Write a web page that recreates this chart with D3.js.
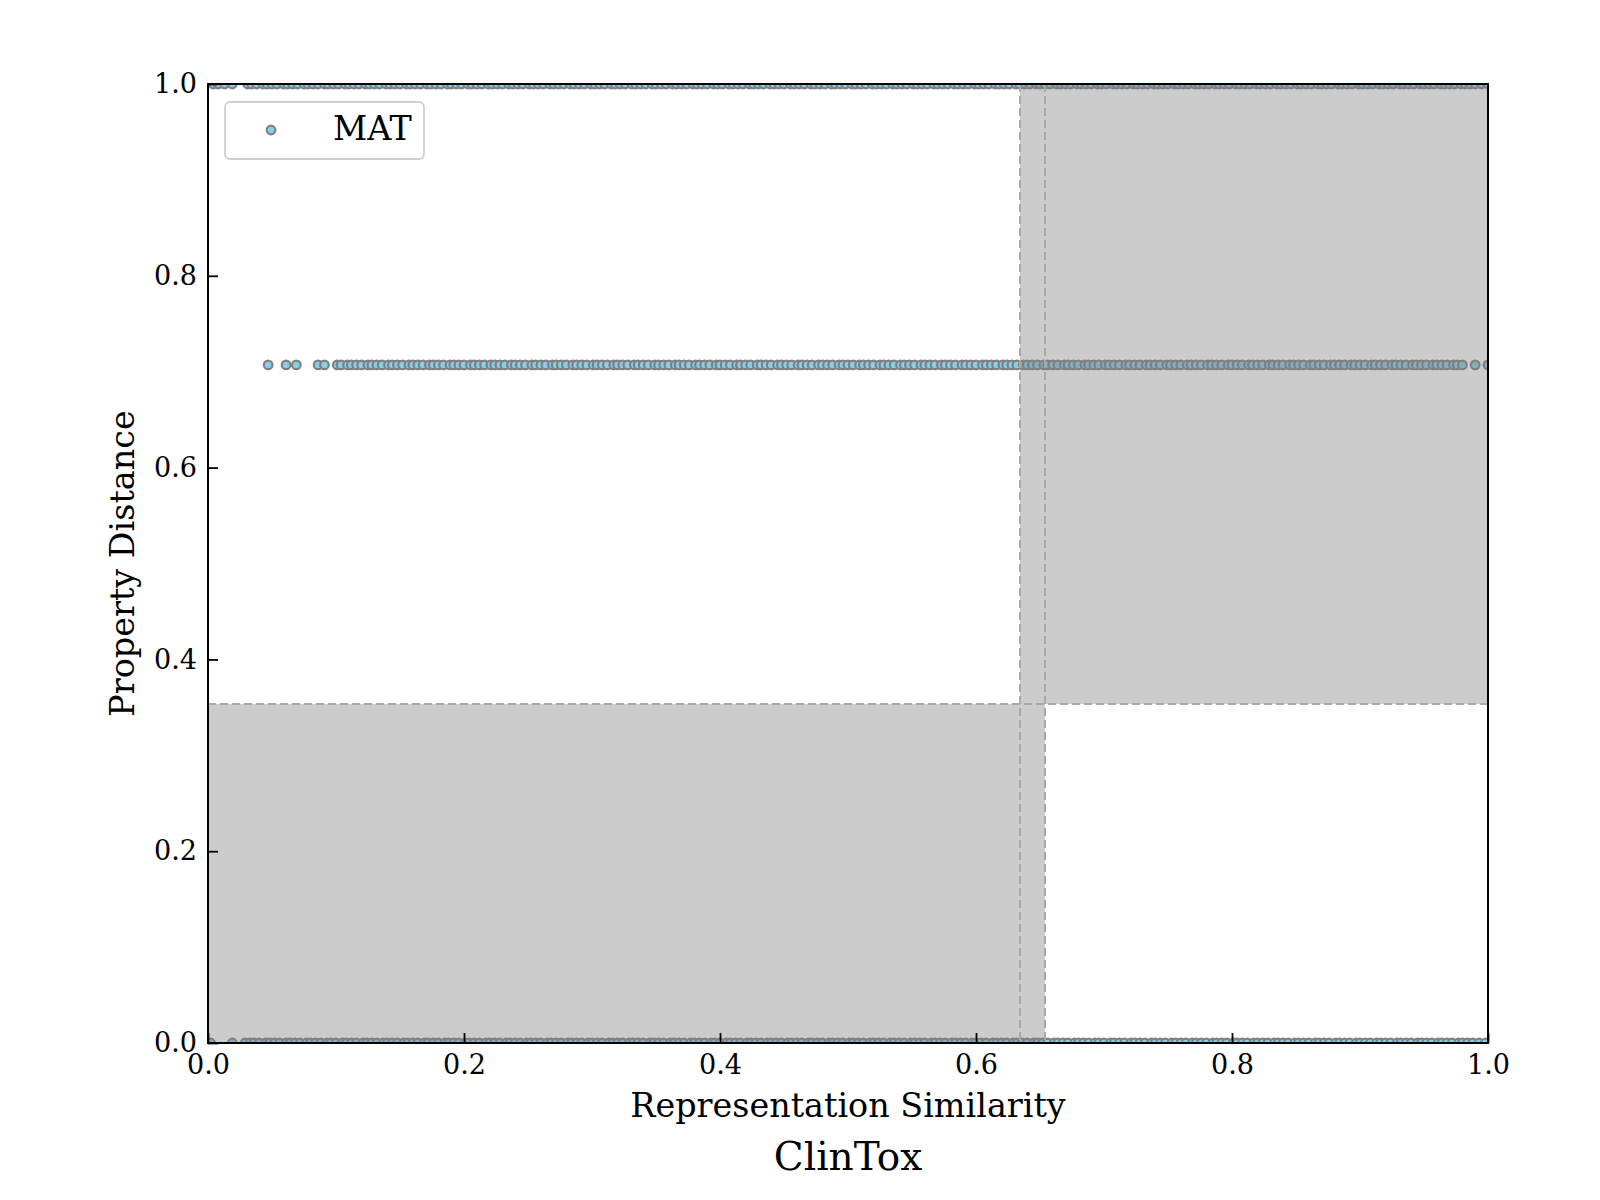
<!DOCTYPE html>
<html>
<head>
<meta charset="utf-8">
<script src="https://cdn.jsdelivr.net/npm/d3@7"></script>
<style>
  body { margin: 0; background: #fff; }
  text { font-family: "DejaVu Serif", serif; }
</style>
</head>
<body>
<svg id="chart" width="1600" height="1200"></svg>
<script>
// ---- data ----
const seriesName = "MAT";
const chartTitle = "ClinTox";
const xLabel = "Representation Similarity";
const yLabel = "Property Distance";
const xTicks = [0.0, 0.2, 0.4, 0.6, 0.8, 1.0];
const yTicks = [0.0, 0.2, 0.4, 0.6, 0.8, 1.0];

// property-distance levels at which points sit
const rowLevels = [1.0, 0.7071, 0.0];

// representation similarity of points at distance 1.0
const xTop = [0.004,0.008,0.013,0.019,
0.031,0.034,0.038,0.043,0.046,0.050,0.054,0.059,0.062,0.066,0.070,0.075,0.078,0.082,0.086,0.091,0.094,0.098,
0.102,0.107,0.110,0.114,0.118,0.123,0.126,0.130,0.134,0.139,0.142,0.146,0.150,0.155,0.158,0.162,0.166,0.171,0.174,0.178,0.182,0.187,0.190,0.194,0.198,
0.203,0.206,0.210,0.214,0.219,0.222,0.226,0.230,0.235,0.238,0.242,0.246,0.251,0.254,0.258,0.262,0.267,0.270,0.274,0.278,0.283,0.286,0.290,0.294,0.299,
0.302,0.306,0.310,0.315,0.318,0.322,0.326,0.331,0.334,0.338,0.342,0.347,0.350,0.354,0.358,0.363,0.366,0.370,0.374,0.379,0.382,0.386,0.390,0.395,0.398,
0.402,0.407,0.410,0.414,0.418,0.423,0.426,0.430,0.434,0.439,0.442,0.446,0.450,0.455,0.458,0.462,0.466,0.471,0.474,0.478,0.482,0.487,0.490,0.494,0.498,
0.503,0.506,0.510,0.514,0.519,0.522,0.526,0.530,0.535,0.538,0.542,0.546,0.551,0.554,0.558,0.562,0.567,0.570,0.574,0.578,0.583,0.586,0.590,0.594,0.599,
0.602,0.606,0.610,0.615,0.618,0.622,0.626,0.631,0.634,0.638,0.642,0.647,0.650,0.654,0.658,0.663,0.666,0.670,0.674,0.679,0.682,0.686,0.690,0.695,0.698,
0.702,0.707,0.710,0.714,0.718,0.723,0.726,0.730,0.734,0.739,0.742,0.746,0.750,0.755,0.758,0.762,0.766,0.771,0.774,0.778,0.782,0.787,0.790,0.794,0.798,
0.803,0.806,0.810,0.814,0.819,0.822,0.826,0.830,0.835,0.838,0.842,0.846,0.851,0.854,0.858,0.862,0.867,0.870,0.874,0.878,0.883,0.886,0.890,0.894,0.899,
0.902,0.906,0.910,0.915,0.918,0.922,0.926,0.931,0.934,0.938,0.942,0.947,0.950,0.954,0.958,0.963,0.966,0.970,0.974,0.979,0.982,0.986,0.990,0.995,1.000];

// representation similarity of points at distance 0.7071
const xMid = [0.047,0.061,0.069,0.086,0.091,
0.101,0.104,0.109,0.112,0.116,0.120,0.125,0.128,0.132,0.136,0.141,0.144,0.148,0.152,0.157,0.160,0.164,0.168,0.173,0.176,0.180,0.184,0.189,0.192,0.196,0.200,
0.205,0.208,0.212,0.216,0.221,0.224,0.228,0.232,0.237,0.240,0.244,0.248,0.253,0.256,0.260,0.264,0.269,0.272,0.276,0.280,0.285,0.288,0.292,0.296,
0.301,0.304,0.308,0.312,0.317,0.320,0.324,0.328,0.333,0.336,0.340,0.344,0.349,0.352,0.356,0.360,0.365,0.368,0.372,0.376,0.381,0.384,0.388,0.392,0.397,
0.400,0.404,0.408,0.413,0.416,0.420,0.424,0.429,0.432,0.436,0.440,0.445,0.448,0.452,0.456,0.461,0.464,0.468,0.472,0.477,0.480,0.484,0.488,0.493,0.496,
0.500,0.504,0.509,0.512,0.516,0.520,0.525,0.528,0.532,0.536,0.541,0.544,0.548,0.552,0.557,0.560,0.564,0.568,0.573,0.576,0.580,0.584,0.589,0.592,0.596,
0.600,0.605,0.608,0.612,0.616,0.621,0.624,0.628,0.632,0.637,0.640,0.644,0.648,0.653,0.656,0.660,0.664,0.669,0.672,0.676,0.680,0.685,0.688,0.692,0.696,
0.701,0.704,0.708,0.712,0.717,0.720,0.724,0.728,0.733,0.736,0.740,0.744,0.749,0.752,0.756,0.760,0.765,0.768,0.772,0.776,0.781,0.784,0.788,0.792,0.797,
0.800,0.804,0.808,0.813,0.816,0.820,0.824,0.829,0.832,0.836,0.840,0.845,0.848,0.852,0.856,0.861,0.864,0.868,0.872,0.877,0.880,0.884,0.888,0.893,0.896,
0.900,0.904,0.909,0.912,0.916,0.920,0.925,0.928,0.932,0.936,0.941,0.944,0.948,0.952,0.957,0.960,0.964,0.968,0.973,0.976,0.980,0.990,1.000];

// representation similarity of points at distance 0.0
const xBot = [0.002,0.019,
0.029,0.033,0.036,0.040,0.045,0.048,0.052,0.056,0.061,0.064,0.068,0.072,0.077,0.080,0.084,0.088,0.093,0.096,
0.100,0.105,0.108,0.112,0.116,0.121,0.124,0.128,0.132,0.137,0.140,0.144,0.148,0.153,0.156,0.160,0.164,0.169,0.172,0.176,0.180,0.185,0.188,0.192,0.196,
0.201,0.204,0.208,0.212,0.217,0.220,0.224,0.228,0.233,0.236,0.240,0.244,0.249,0.252,0.256,0.260,0.265,0.268,0.272,0.276,0.281,0.284,0.288,0.292,0.297,
0.300,0.304,0.308,0.313,0.316,0.320,0.324,0.329,0.332,0.336,0.340,0.345,0.348,0.352,0.356,0.361,0.364,0.368,0.372,0.377,0.380,0.384,0.388,0.393,0.396,
0.400,0.405,0.408,0.412,0.416,0.421,0.424,0.428,0.432,0.437,0.440,0.444,0.448,0.453,0.456,0.460,0.464,0.469,0.472,0.476,0.480,0.485,0.488,0.492,0.496,
0.501,0.504,0.508,0.512,0.517,0.520,0.524,0.528,0.533,0.536,0.540,0.544,0.549,0.552,0.556,0.560,0.565,0.568,0.572,0.576,0.581,0.584,0.588,0.592,0.597,
0.600,0.604,0.608,0.613,0.616,0.620,0.624,0.629,0.632,0.636,0.640,0.645,0.648,0.652,0.656,0.661,0.664,0.668,0.672,0.677,0.680,0.684,0.688,0.693,0.696,
0.700,0.705,0.708,0.712,0.716,0.721,0.724,0.728,0.732,0.737,0.740,0.744,0.748,0.753,0.756,0.760,0.764,0.769,0.772,0.776,0.780,0.785,0.788,0.792,0.796,
0.801,0.804,0.808,0.812,0.817,0.820,0.824,0.828,0.833,0.836,0.840,0.844,0.849,0.852,0.856,0.860,0.865,0.868,0.872,0.876,0.881,0.884,0.888,0.892,0.897,
0.900,0.904,0.908,0.913,0.916,0.920,0.924,0.929,0.932,0.936,0.940,0.945,0.948,0.952,0.956,0.961,0.964,0.968,0.972,0.977,0.980,0.984,0.988,0.993,0.998];

const rowX = [xTop, xMid, xBot];

// shaded regions: [x0, x1, y0, y1]
const regionX0 = [0.6344, 0.0];
const regionX1 = [1.0, 0.6539];
const regionY0 = [0.3535, 0.0];
const regionY1 = [1.0, 0.3535];
// dashed threshold lines
const vThresholds = [0.6344, 0.6539];
const hThresholds = [0.3535];

// ---- layout ----
const svg = d3.select("#chart");
const margin = { left: 208, top: 84, right: 112, bottom: 157 };
const W = 1600 - margin.left - margin.right;   // 1280
const H = 1200 - margin.top - margin.bottom;   // 959

const x = d3.scaleLinear().domain([0, 1]).range([0, W]);
const y = d3.scaleLinear().domain([0, 1]).range([H, 0]);

const g = svg.append("g").attr("transform", `translate(${margin.left},${margin.top})`);

svg.append("defs").append("clipPath").attr("id", "plotclip")
  .append("rect").attr("x", 0).attr("y", 0).attr("width", W).attr("height", H);

// points
const points = [];
rowLevels.forEach((lvl, i) => rowX[i].forEach(v => points.push({ x: v, y: lvl })));

const pg = g.append("g").attr("clip-path", "url(#plotclip)");
pg.selectAll("circle").data(points).enter().append("circle")
  .attr("cx", d => x(d.x))
  .attr("cy", d => y(d.y))
  .attr("r", 4.3)
  .attr("fill", "#87CEEB")
  .attr("stroke", "#808080")
  .attr("stroke-width", 2.2);

// shaded regions (drawn over points, semi-transparent)
const regions = regionX0.map((v, i) => ({ x0: v, x1: regionX1[i], y0: regionY0[i], y1: regionY1[i] }));
const rg = g.append("g").attr("clip-path", "url(#plotclip)");
rg.selectAll("rect").data(regions).enter().append("rect")
  .attr("x", d => x(d.x0))
  .attr("y", d => y(d.y1))
  .attr("width", d => x(d.x1) - x(d.x0))
  .attr("height", d => y(d.y0) - y(d.y1))
  .attr("fill", "rgba(128,128,128,0.4)");

rg.selectAll("line.v").data(vThresholds).enter().append("line").attr("class", "v")
  .attr("x1", d => x(d)).attr("x2", d => x(d)).attr("y1", 0).attr("y2", H)
  .attr("stroke", "#a9a9a9").attr("stroke-width", 2).attr("stroke-dasharray", "8 4");
rg.selectAll("line.h").data(hThresholds).enter().append("line").attr("class", "h")
  .attr("y1", d => y(d)).attr("y2", d => y(d)).attr("x1", 0).attr("x2", W)
  .attr("stroke", "#a9a9a9").attr("stroke-width", 2).attr("stroke-dasharray", "8 4");

// axes
const xAxis = d3.axisBottom(x).tickValues(xTicks).tickFormat(d3.format(".1f"))
  .tickSizeInner(-10).tickSizeOuter(0).tickPadding(12);
const yAxis = d3.axisLeft(y).tickValues(yTicks).tickFormat(d3.format(".1f"))
  .tickSizeInner(-10).tickSizeOuter(0).tickPadding(11);

const gx = g.append("g").attr("transform", `translate(0,${H})`).call(xAxis);
const gy = g.append("g").call(yAxis);
[gx, gy].forEach(a => {
  a.select(".domain").remove();
  a.selectAll(".tick line").attr("stroke", "#000").attr("stroke-width", 1.8);
  a.selectAll(".tick text").attr("fill", "#000").style("font-family", "DejaVu Serif").style("font-size", "27px");
});

// spines
g.append("rect").attr("x", 0).attr("y", 0).attr("width", W).attr("height", H)
  .attr("fill", "none").attr("stroke", "#000").attr("stroke-width", 2);

// axis labels
svg.append("text").attr("x", margin.left + W / 2).attr("y", 1117)
  .attr("text-anchor", "middle").style("font-size", "33.4px").text(xLabel);
svg.append("text").attr("transform", `translate(134,${margin.top + H / 2}) rotate(-90)`)
  .attr("text-anchor", "middle").style("font-size", "33.4px").text(yLabel);
svg.append("text").attr("x", margin.left + W / 2).attr("y", 1170)
  .attr("text-anchor", "middle").style("font-size", "39px").text(chartTitle);

// legend
const lg = svg.append("g");
lg.append("rect").attr("x", 225).attr("y", 102).attr("width", 199).attr("height", 57)
  .attr("rx", 5).attr("fill", "rgba(255,255,255,0.8)").attr("stroke", "#d0d0d0").attr("stroke-width", 1.8);
lg.append("circle").attr("cx", 271).attr("cy", 130).attr("r", 4.3)
  .attr("fill", "#87CEEB").attr("stroke", "#808080").attr("stroke-width", 2.2);
lg.append("text").attr("x", 333).attr("y", 140).style("font-size", "33.4px").text(seriesName);
</script>
</body>
</html>
